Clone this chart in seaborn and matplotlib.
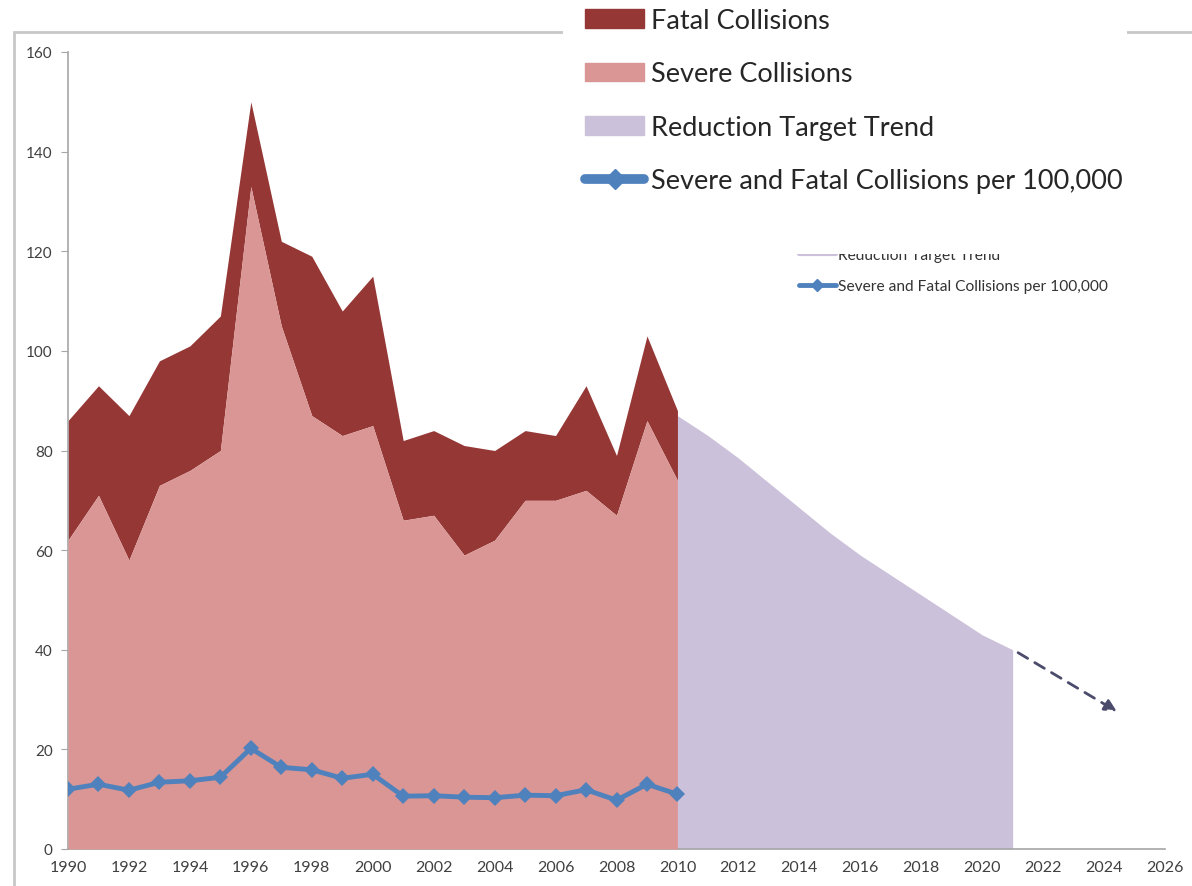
import numpy as np
import pandas as pd
import matplotlib.pyplot as plt
import seaborn as sns
from matplotlib.patches import Patch, Rectangle
from matplotlib.lines import Line2D

# data
years = list(range(1990, 2011))
severe = [62, 71, 58, 73, 76, 80, 133, 105, 87, 83, 85,
          66, 67, 59, 62, 70, 70, 72, 67, 86, 74]
fatal_total = [86, 93, 87, 98, 101, 107, 150, 122, 119, 108, 115,
               82, 84, 81, 80, 84, 83, 93, 79, 103, 88]
rate = [12.0, 13.0, 11.8, 13.4, 13.7, 14.4, 20.2, 16.4, 15.9, 14.2, 15.0,
        10.6, 10.7, 10.4, 10.3, 10.8, 10.7, 11.9, 9.8, 13.0, 11.0]
target_years = list(range(2010, 2022))
target = [87, 83, 78.5, 73.5, 68.5, 63.5, 59, 55, 51, 47, 43, 40]
arrow_start = (2021.1, 39.7)
arrow_end = (2024.5, 27.3)

labels = ['Fatal Collisions', 'Severe Collisions', 'Reduction Target Trend',
          'Severe and Fatal Collisions per 100,000']

c_fatal = '#953735'
c_severe = '#D99694'
c_target = '#CCC1DA'
c_rate = '#4F81BD'

df = pd.DataFrame({'year': years, 'severe': severe, 'total': fatal_total, 'rate': rate})

sns.set_style('white')
plt.rcParams['font.family'] = ['Lato', 'DejaVu Sans']

fig = plt.figure(figsize=(11.92, 8.87), dpi=100)
ax = fig.add_axes([68 / 1192, 37 / 887, 1097 / 1192, 797 / 887])

ax.fill_between(target_years, 0, target, color=c_target, lw=0, zorder=1)
ax.fill_between(df['year'], df['severe'], df['total'], color=c_fatal, lw=0, zorder=2)
ax.fill_between(df['year'], 0, df['severe'], color=c_severe, lw=0, zorder=3)
sns.lineplot(data=df, x='year', y='rate', ax=ax, color=c_rate, lw=3.5,
             marker='D', markersize=8, markeredgewidth=0, zorder=4)

ax.annotate('', xy=arrow_end, xytext=arrow_start,
            arrowprops=dict(arrowstyle='-|>', linestyle=(0, (4, 3)), lw=2,
                            color='#4B4B6B', mutation_scale=18))

ax.set_xlim(1990, 2026)
ax.set_ylim(0, 160)
ax.set_xticks(range(1990, 2027, 2))
ax.set_yticks(range(0, 161, 20))
ax.set_xlabel('')
ax.set_ylabel('')
for s in ['top', 'right']:
    ax.spines[s].set_visible(False)
for s in ['left', 'bottom']:
    ax.spines[s].set_color('#A6A6A6')
    ax.spines[s].set_linewidth(1.2)
ax.tick_params(axis='y', length=5, color='#A6A6A6', labelsize=11,
               labelcolor='#404040', pad=6, left=True)
ax.tick_params(axis='x', length=0, labelsize=11.5, labelcolor='#404040', pad=8)

# small in-chart legend, its upper part is hidden behind the big one
small_handles = [Line2D([], [], color=c_target, lw=3),
                 Line2D([], [], color=c_rate, lw=3.5, marker='D', markersize=6)]
ax.legend(small_handles, labels[2:], loc='upper left',
          bbox_to_anchor=(785 / 1192, 1 - 235 / 887), bbox_transform=fig.transFigure,
          frameon=False, fontsize=11.2, handlelength=2.37, handletextpad=0.15,
          labelspacing=1.11, labelcolor='#333333')

# outer chart border
fig.patches.append(Rectangle((14 / 1192, -0.1), 1.2, 1 - 33 / 887 + 0.1,
                             transform=fig.transFigure, fill=False,
                             edgecolor='#C8C8C8', lw=2, zorder=0.5))
# white box behind the big legend
fig.patches.append(Rectangle((563 / 1192, 1 - 255 / 887), 492 / 1192, 255 / 887,
                             transform=fig.transFigure, facecolor='white',
                             edgecolor='none', zorder=2))

big_handles = [Patch(color=c_fatal), Patch(color=c_severe), Patch(color=c_target),
               Line2D([], [], color=c_rate, lw=7, marker='D', markersize=10)]
leg = fig.legend(big_handles, labels, loc='upper left',
                 bbox_to_anchor=(581 / 1192, 1 - 5 / 887), frameon=True, fontsize=19.5,
                 handlelength=2.18, handleheight=0.66, handletextpad=0.26,
                 labelspacing=1.05, borderpad=0.15, borderaxespad=0)
leg.get_frame().set_facecolor('white')
leg.get_frame().set_edgecolor('none')
leg.get_frame().set_alpha(1)
leg.set_zorder(3)

fig.savefig('out.png', dpi=100)
